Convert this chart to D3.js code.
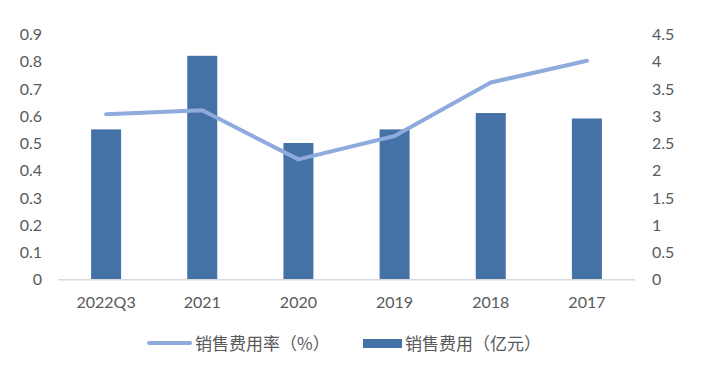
<!DOCTYPE html>
<html><head><meta charset="utf-8">
<script src="https://cdn.jsdelivr.net/npm/d3@7"></script>
<style>body{margin:0;background:#fff}svg{display:block}</style>
</head><body>
<svg id="c" width="706" height="375"></svg>
<script>
const categories = ["2022Q3","2021","2020","2019","2018","2017"];
const salesExpense = [0.55,0.82,0.50,0.55,0.61,0.59];
const salesExpenseRate = [3.03,3.10,2.20,2.63,3.61,4.01];
const leftTicks = [0,0.1,0.2,0.3,0.4,0.5,0.6,0.7,0.8,0.9];
const rightTicks = [0,0.5,1,1.5,2,2.5,3,3.5,4,4.5];
const seriesNames = ["销售费用率（%）","销售费用（亿元）"];

const svg = d3.select("#c");
const font = "Lato, Carlito, Calibri, sans-serif";
const L = 58, R = 635, T = 34, B = 279.3;
const yL = d3.scaleLinear().domain([0,0.9]).range([B,T]);
const yR = d3.scaleLinear().domain([0,4.5]).range([B,T]);
const band = d3.scaleBand().domain(categories).range([L,R]);

svg.append("g").selectAll("rect").data(categories).join("rect")
  .attr("x",(d)=>band(d)+band.bandwidth()/2-15)
  .attr("width",30)
  .attr("y",(d,i)=>yL(salesExpense[i]))
  .attr("height",(d,i)=>B-yL(salesExpense[i]))
  .attr("fill","#4472A7");

svg.append("line").attr("x1",L).attr("x2",R).attr("y1",B+0.5).attr("y2",B+0.5)
  .attr("stroke","#D9D9D9").attr("stroke-width",1.5);

const line = d3.line().x((d,i)=>band(categories[i])+band.bandwidth()/2).y(d=>yR(d));
svg.append("path").datum(salesExpenseRate).attr("d",line)
  .attr("fill","none").attr("stroke","#8FAADC").attr("stroke-width",4)
  .attr("stroke-linejoin","round").attr("stroke-linecap","round");

const leftAxis = d3.axisLeft(yL).tickValues(leftTicks).tickSize(0).tickPadding(0).tickFormat(d3.format("~g"));
const gl = svg.append("g").attr("transform","translate(42,0)").call(leftAxis);
gl.select(".domain").remove();
gl.selectAll("text").attr("font-family",font).attr("font-size",16).attr("fill","#595959").attr("dy","0.35em");

const rightAxis = d3.axisRight(yR).tickValues(rightTicks).tickSize(0).tickPadding(0).tickFormat(d3.format("~g"));
const gr = svg.append("g").attr("transform","translate(652,0)").call(rightAxis);
gr.select(".domain").remove();
gr.selectAll("text").attr("font-family",font).attr("font-size",16).attr("fill","#595959").attr("dy","0.35em");

const bottomAxis = d3.axisBottom(band).tickSize(0).tickPadding(0);
const gb = svg.append("g").attr("transform",`translate(0,${B})`).call(bottomAxis);
gb.select(".domain").remove();
gb.selectAll("text").attr("font-family",font).attr("font-size",16).attr("fill","#595959").attr("y",29).attr("dy","0");

const cjk = "'Noto Sans CJK SC', sans-serif";
const leg = svg.append("g");
leg.append("line").attr("x1",149).attr("x2",190).attr("y1",343).attr("y2",343)
  .attr("stroke","#8FAADC").attr("stroke-width",4).attr("stroke-linecap","round");
leg.append("text").attr("x",195).attr("y",349.5).text(seriesNames[0])
  .attr("font-family",cjk).attr("font-size",17).attr("fill","#595959");
leg.append("rect").attr("x",363).attr("y",339).attr("width",39).attr("height",9).attr("fill","#4472A7");
leg.append("text").attr("x",405).attr("y",349.5).text(seriesNames[1])
  .attr("font-family",cjk).attr("font-size",17).attr("fill","#595959");
</script>
</body></html>
